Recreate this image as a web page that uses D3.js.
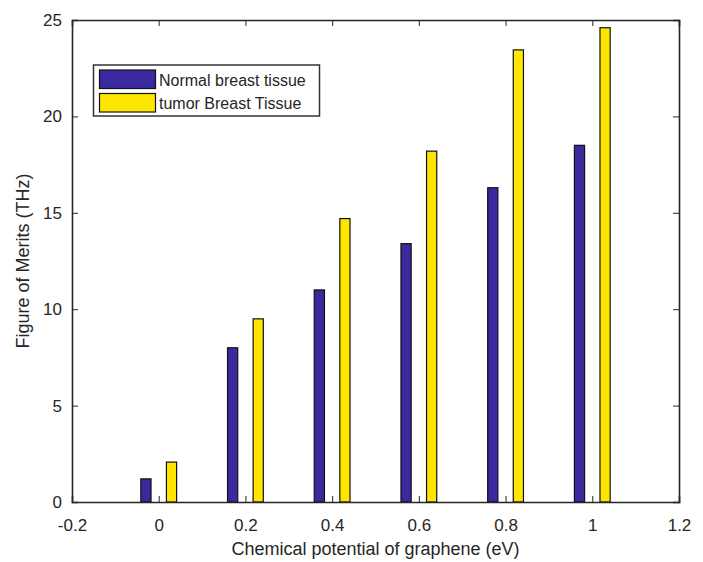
<!DOCTYPE html>
<html><head><meta charset="utf-8">
<script src="https://cdn.jsdelivr.net/npm/d3@7"></script>
<style>body{margin:0;background:#fff}svg{display:block}text{font-family:"Liberation Sans",Arial,sans-serif;fill:#262626}</style>
</head><body>
<script>
const categories = [0, 0.2, 0.4, 0.6, 0.8, 1.0];
const normalValues = [1.2, 8.0, 11.0, 13.4, 16.3, 18.5];
const tumorValues = [2.07, 9.5, 14.7, 18.2, 23.45, 24.6];
const seriesNames = ["Normal breast tissue", "tumor Breast Tissue"];
const seriesColors = ["#3b2a9f", "#ffe600"];
const xTicks = [-0.2, 0, 0.2, 0.4, 0.6, 0.8, 1, 1.2];
const yTicks = [0, 5, 10, 15, 20, 25];

const W = 703, H = 562;
const m = {l: 72, r: 24, t: 20, b: 60};
const svg = d3.select("body").append("svg").attr("width", W).attr("height", H);
const x = d3.scaleLinear().domain([-0.2, 1.2]).range([m.l, W - m.r]);
const y = d3.scaleLinear().domain([0, 25]).range([H - m.b, m.t]);

const offset = 0.0295, bw = 0.0235;
const series = [normalValues, tumorValues];
series.forEach((vals, si) => {
  svg.append("g").selectAll("rect").data(categories.map((c, i) => ({c, v: vals[i]}))).join("rect")
    .attr("x", d => x(d.c + (si === 0 ? -offset : offset) - bw / 2))
    .attr("width", d => x(bw) - x(0))
    .attr("y", d => y(d.v))
    .attr("height", d => y(0) - y(d.v))
    .attr("fill", seriesColors[si]).attr("stroke", "#111").attr("stroke-width", 1.2);
});

const tl = 6;
const fmt = d => String(+d.toFixed(1));
const ax = svg.append("g").attr("transform", `translate(0,${y(0)})`)
  .call(d3.axisBottom(x).tickValues(xTicks).tickSize(-tl).tickPadding(17).tickFormat(fmt));
const ay = svg.append("g").attr("transform", `translate(${x(-0.2)},0)`)
  .call(d3.axisLeft(y).tickValues(yTicks).tickSize(-tl).tickPadding(10).tickFormat(fmt));
const axt = svg.append("g").attr("transform", `translate(0,${y(25)})`)
  .call(d3.axisTop(x).tickValues(xTicks).tickSize(-tl).tickFormat(""));
const ayr = svg.append("g").attr("transform", `translate(${x(1.2)},0)`)
  .call(d3.axisRight(y).tickValues(yTicks).tickSize(-tl).tickFormat(""));
[ax, ay, axt, ayr].forEach(g => {
  g.select(".domain").attr("stroke", "#262626").attr("stroke-width", 1.6);
  g.selectAll(".tick line").attr("stroke", "#262626").attr("stroke-width", 1);
  g.selectAll("text").attr("font-size", 17).attr("fill", "#262626")
    .attr("font-family", '"Liberation Sans",Arial,sans-serif');
});

svg.append("text").attr("x", (x(-0.2) + x(1.2)) / 2).attr("y", 555)
  .attr("text-anchor", "middle").attr("font-size", 18).text("Chemical potential of graphene (eV)");
svg.append("text").attr("transform", `translate(29,${(y(0) + y(25)) / 2}) rotate(-90)`)
  .attr("text-anchor", "middle").attr("font-size", 18).text("Figure of Merits (THz)");

const lg = svg.append("g");
lg.append("rect").attr("x", 93.5).attr("y", 65).attr("width", 226).attr("height", 51)
  .attr("fill", "#fff").attr("stroke", "#333").attr("stroke-width", 1.5);
seriesNames.forEach((n, i) => {
  lg.append("rect").attr("x", 99.5).attr("y", 70 + i * 23.5).attr("width", 56).attr("height", 18.5)
    .attr("fill", seriesColors[i]).attr("stroke", "#111").attr("stroke-width", 1.2);
  lg.append("text").attr("x", 159).attr("y", 85.5 + i * 23.5).attr("font-size", 16).text(n);
});
</script>
</body></html>
